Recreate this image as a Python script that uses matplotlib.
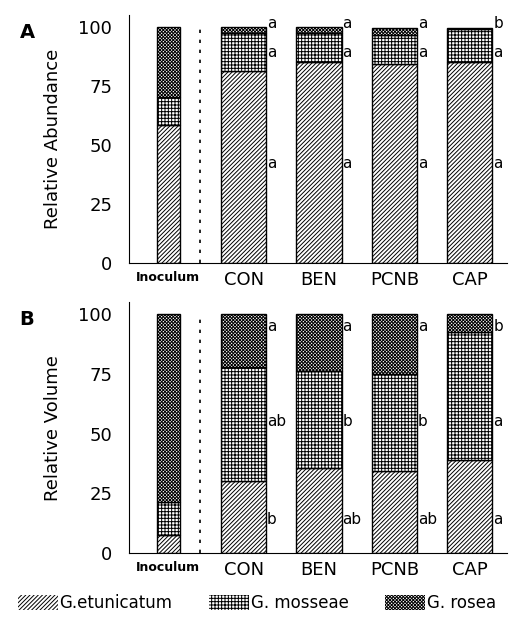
import numpy as np
import matplotlib
matplotlib.use('Agg')
import matplotlib.pyplot as plt
from matplotlib.patches import Patch

plt.rcParams['font.family'] = ['DejaVu Sans']
plt.rcParams['hatch.linewidth'] = 0.7

# Data
groups = ['Inoculum', 'CON', 'BEN', 'PCNB', 'CAP']
species = ['G.etunicatum', 'G. mosseae', 'G. rosea']
hatches = ['////////', '+++++', 'xxxxxxxxxx']

# Panel A: relative abundance (%)
abund_etun = [58.5, 81.5, 85, 84.5, 85]
abund_moss = [12, 16, 12.5, 12, 14]
abund_rosea = [29.5, 2.5, 2.5, 3, 0.7]
abund_letters = [['a', 'a', 'a', 'b'],   # rosea (top)
                 ['a', 'a', 'a', 'a'],   # mosseae
                 ['a', 'a', 'a', 'a']]   # etunicatum
abund_letter_y = [101.5, 89, 42]

# Panel B: relative volume (%)
vol_etun = [7.5, 30, 35.5, 34.5, 39]
vol_moss = [14, 48, 40.5, 40.5, 53.5]
vol_rosea = [78.5, 22, 24, 25, 7.5]
vol_letters = [['a', 'a', 'a', 'b'],
               ['ab', 'b', 'b', 'a'],
               ['b', 'ab', 'ab', 'a']]
vol_letter_y = [95, 55, 14]

x = np.arange(len(groups))
widths = [0.3, 0.6, 0.6, 0.6, 0.6]

fig = plt.figure(figsize=(5.14, 6.27), dpi=100)
axA = fig.add_axes([0.251, 0.5805, 0.735, 0.3953])
axB = fig.add_axes([0.251, 0.118, 0.735, 0.400])


def draw(ax, etun, moss, rosea, letters, letter_y, ylabel, tag):
    etun = np.array(etun)
    moss = np.array(moss)
    rosea = np.array(rosea)
    for vals, bottom, h in [(etun, 0, hatches[0]),
                            (moss, etun, hatches[1]),
                            (rosea, etun + moss, hatches[2])]:
        ax.bar(x, vals, width=widths, bottom=bottom, color='white',
               edgecolor='black', hatch=h, linewidth=1.0)
    ax.vlines(0.42, 0, 100, colors='black', linestyles=(0, (2, 4)), linewidth=1.2)
    for row, yv in zip(letters, letter_y):
        for i, lab in enumerate(row):
            ax.text(x[i + 1] + 0.31, yv, lab, fontsize=11, ha='left', va='center')
    ax.set_xlim(-0.52, 4.49)
    ax.set_ylim(0, 105)
    ax.set_yticks([0, 25, 50, 75, 100])
    ax.tick_params(axis='y', labelsize=13, length=0, pad=12)
    ax.tick_params(axis='x', length=0, pad=6)
    ax.set_xticks(x)
    ax.set_xticklabels(groups)
    for i, t in enumerate(ax.get_xticklabels()):
        if i == 0:
            t.set_fontsize(9)
            t.set_fontweight('bold')
        else:
            t.set_fontsize(13)
    ax.spines['top'].set_visible(False)
    ax.spines['right'].set_visible(False)
    ax.set_ylabel(ylabel, fontsize=13, labelpad=12)
    ax.text(-0.29, 0.93, tag, transform=ax.transAxes, fontsize=14,
            fontweight='bold', ha='left', va='center')


draw(axA, abund_etun, abund_moss, abund_rosea, abund_letters,
     abund_letter_y, 'Relative Abundance', 'A')
draw(axB, vol_etun, vol_moss, vol_rosea, vol_letters,
     vol_letter_y, 'Relative Volume', 'B')

handles = [Patch(facecolor='white', edgecolor='black', linewidth=0, hatch=h, label=s)
           for h, s in zip(hatches, species)]
fig.legend(handles=handles, loc='lower center', bbox_to_anchor=(0.5, 0.0),
           ncol=3, frameon=False, fontsize=12, handlelength=2.4,
           handleheight=1.0, handletextpad=0.1, columnspacing=2.2)

fig.savefig('out.png', dpi=100)
